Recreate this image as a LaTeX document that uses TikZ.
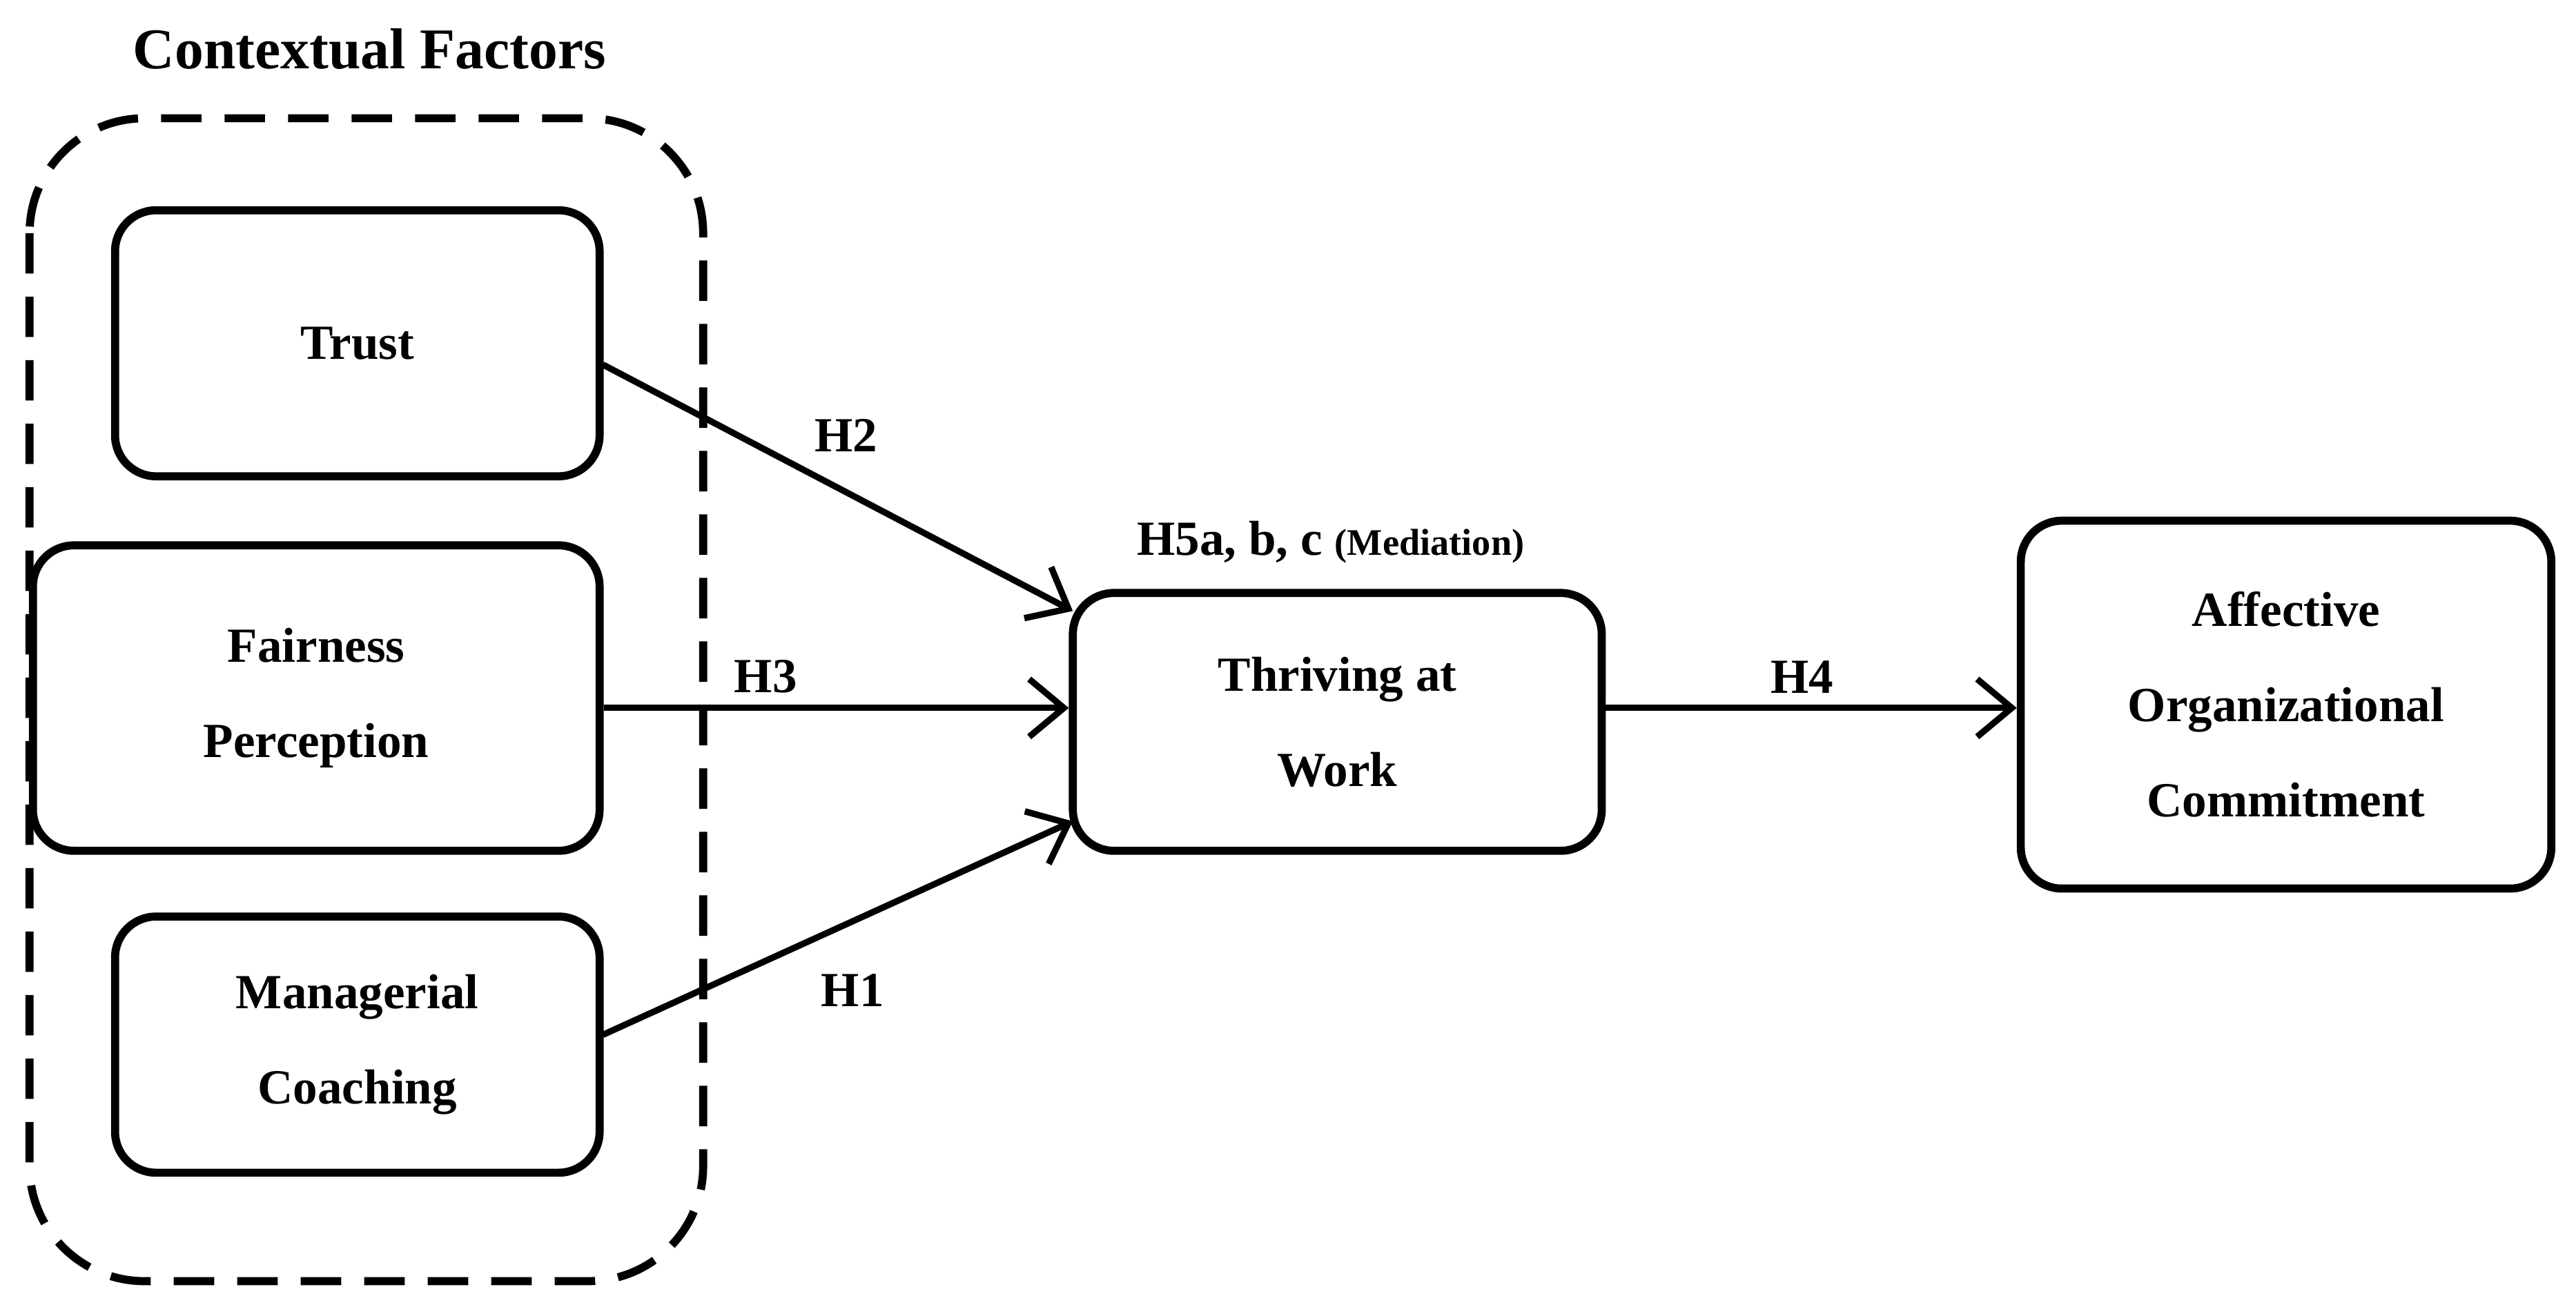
\documentclass[tikz,border=0pt]{standalone}
\usepackage{fontspec}
\setmainfont{Liberation Serif}
\usetikzlibrary{arrows.meta}
\begin{document}
\begin{tikzpicture}[x=0.02cm,y=-0.02cm,
  box/.style={draw,line width=2.8pt,rounded corners=0.5cm,align=center,font=\fontsize{17}{33}\selectfont\bfseries,inner sep=0pt},
  arr/.style={line width=2.2pt,-{Straight Barb[length=12pt,width=20pt,line width=2.2pt]}},
  lab/.style={font=\fontsize{17}{20}\selectfont\bfseries}]
\useasboundingbox (0,0) rectangle (1568,801);
\draw[line width=2.8pt,dash pattern=on 14pt off 8pt,rounded corners=1.4cm] (18,72) rectangle (428,780);
\node[lab,font=\fontsize{20}{24}\selectfont\bfseries] (title) at (225,30) {Contextual Factors};
\node[box,minimum width=5.9cm,minimum height=3.24cm] (trust) at (217.5,209) {Trust};
\node[box,minimum width=6.9cm,minimum height=3.72cm] (fair) at (192.5,425) {Fairness\\Perception};
\node[box,minimum width=5.9cm,minimum height=3.12cm] (man) at (217.5,636) {Managerial\\Coaching};
\node[box,minimum width=6.44cm,minimum height=3.14cm] (thr) at (814,439.5) {Thriving at\\Work};
\node[box,minimum width=6.46cm,minimum height=4.48cm] (aff) at (1391.5,429) {Affective\\Organizational\\Commitment};
\coordinate (t1) at (367,222); \coordinate (t2) at (653,372);
\coordinate (m1) at (367,630); \coordinate (m2) at (653,500);
\draw[arr] (t1) -- (t2);
\draw[arr] (fair.east |- 0,431) -- (thr.west |- 0,431);
\draw[arr] (m1) -- (m2);
\draw[arr] (thr.east |- 0,431) -- (aff.west |- 0,431);
\node[lab] (h2) at (515,265) {H2};
\node[lab] (h3) at (466,412) {H3};
\node[lab] (h1) at (519,603) {H1};
\node[lab] (h4) at (1097,412) {H4};
\node[lab] (h5) at (810,330) {H5a, b, c {\fontsize{13}{15}\selectfont(Mediation)}};
\end{tikzpicture}
\end{document}
